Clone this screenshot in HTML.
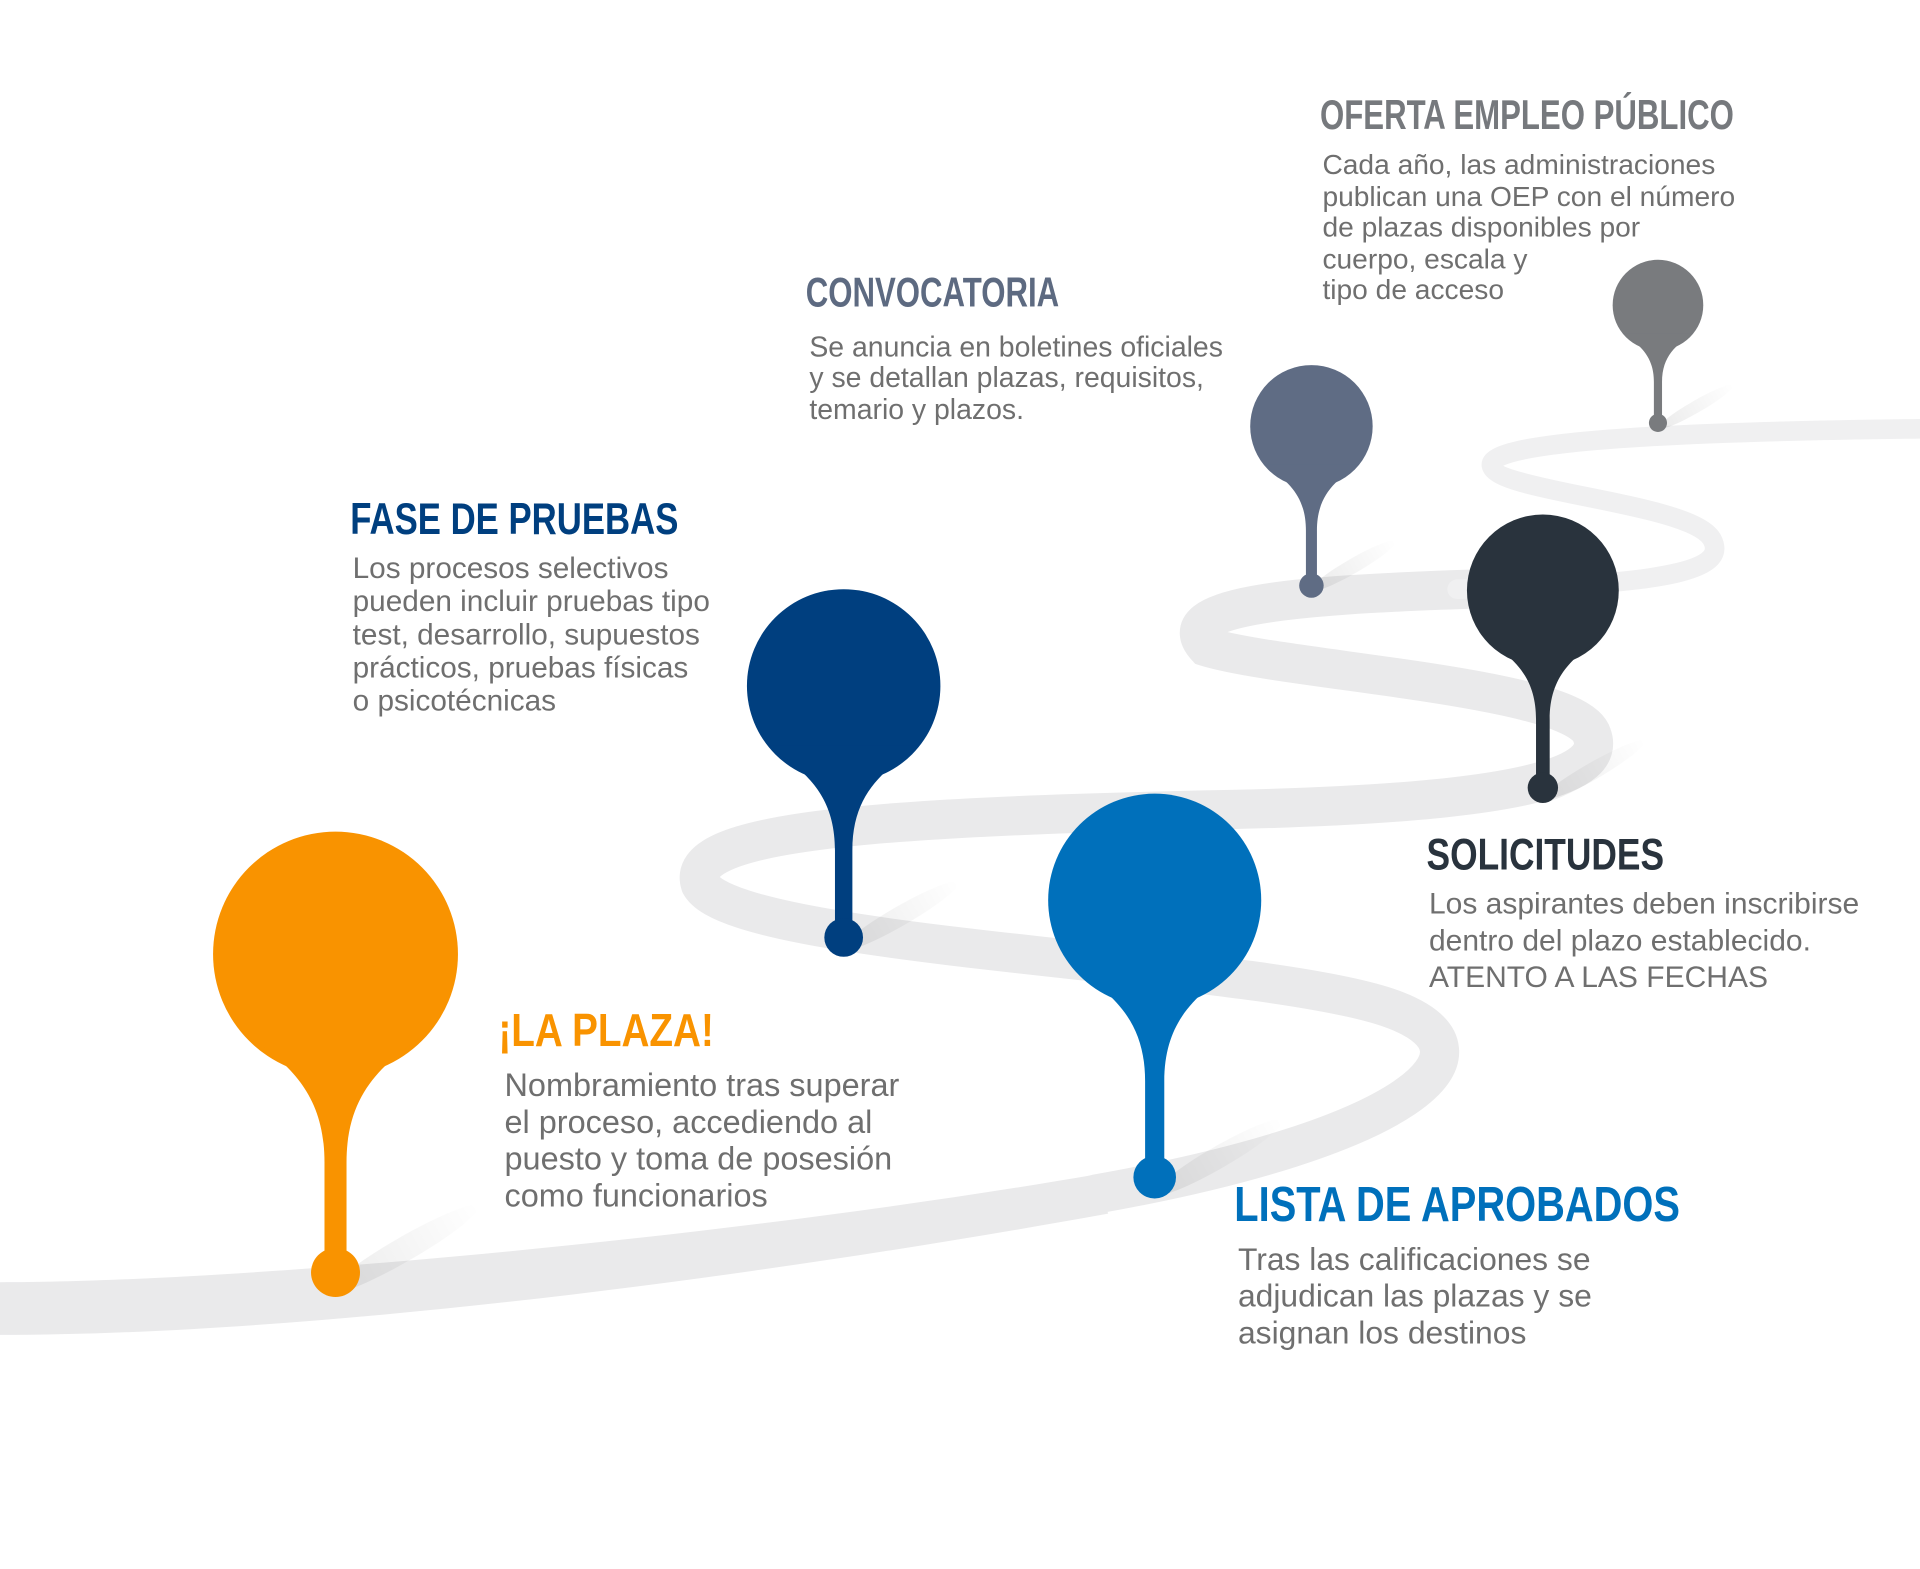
<!DOCTYPE html>
<html><head><meta charset="utf-8"><style>
html,body{margin:0;padding:0;background:#fff;overflow:hidden;}
svg{display:block;}
.t{font-family:"Liberation Sans Narrow","Liberation Sans",sans-serif;font-weight:bold;}
.b{font-family:"Liberation Sans",sans-serif;fill:#6f6f6f;}
</style></head><body>
<svg width="1920" height="1569" viewBox="0 0 1568 1281" xmlns="http://www.w3.org/2000/svg">
<defs>
<g id="pin">
<circle cx="0" cy="0" r="100"/>
<path d="M-78,62 C-40,88 -9,112 -9,170 L-9,245 L9,245 L9,170 C9,112 40,88 78,62 Z"/>
<circle cx="0" cy="260" r="20"/>
</g>
<linearGradient id="sh" x1="0" x2="1"><stop offset="0" stop-color="#000" stop-opacity="0.08"/><stop offset="1" stop-color="#000" stop-opacity="0"/></linearGradient>
</defs>
<path d="M0,1047 C200,1047 600,1010 895,959 L905,991 C600,1046 250,1090 0,1090 Z" fill="#eaeaeb"/>
<path d="M895,975 C1150,930 1230,860 1140,825 C1040,785 600,775 572,722 C558,680 700,667 1000,661 C1250,656 1312,632 1300,600 C1288,560 1050,548 985,528 C955,495 1050,486 1200,481" fill="none" stroke="#eaeaeb" stroke-width="32" stroke-linecap="round"/>
<path d="M1190,481 C1380,478 1410,462 1398,440 C1380,410 1222,402 1218,380 C1215,358 1400,352 1568,350" fill="none" stroke="#f0f0f1" stroke-width="16" stroke-linecap="round"/>
<ellipse cx="330" cy="1020" rx="70" ry="10" fill="url(#sh)" transform="rotate(-30 330 1020)"/>
<ellipse cx="735" cy="748" rx="55" ry="8" fill="url(#sh)" transform="rotate(-30 735 748)"/>
<ellipse cx="995" cy="945" rx="60" ry="9" fill="url(#sh)" transform="rotate(-30 995 945)"/>
<ellipse cx="1300" cy="630" rx="50" ry="7" fill="url(#sh)" transform="rotate(-30 1300 630)"/>
<ellipse cx="1105" cy="462" rx="40" ry="6" fill="url(#sh)" transform="rotate(-30 1105 462)"/>
<ellipse cx="1385" cy="332" rx="35" ry="5" fill="url(#sh)" transform="rotate(-30 1385 332)"/>
<use href="#pin" fill="#f99300" transform="translate(274,779) scale(1.0)"/>
<use href="#pin" fill="#003f7f" transform="translate(689,560) scale(0.79)"/>
<use href="#pin" fill="#0070bb" transform="translate(943,735) scale(0.87)"/>
<use href="#pin" fill="#29333d" transform="translate(1260,482) scale(0.62)"/>
<use href="#pin" fill="#5f6c84" transform="translate(1071,348) scale(0.50)"/>
<use href="#pin" fill="#797b7e" transform="translate(1354,249) scale(0.37)"/>
<text class="t" x="1078" y="105" font-size="34" fill="#76797d" textLength="338" lengthAdjust="spacingAndGlyphs">OFERTA EMPLEO PÚBLICO</text>
<g class="b" font-size="23">
<text x="1080" y="142">Cada año, las administraciones</text>
<text x="1080" y="168">publican una OEP con el número</text>
<text x="1080" y="193">de plazas disponibles por</text>
<text x="1080" y="219">cuerpo, escala y</text>
<text x="1080" y="244">tipo de acceso</text>
</g>
<text class="t" x="658" y="250" font-size="34" fill="#5d6a81" textLength="207" lengthAdjust="spacingAndGlyphs">CONVOCATORIA</text>
<g class="b" font-size="23.2">
<text x="661" y="291">Se anuncia en boletines oficiales</text>
<text x="661" y="316">y se detallan plazas, requisitos,</text>
<text x="661" y="342">temario y plazos.</text>
</g>
<text class="t" x="286" y="436" font-size="36" fill="#003f7f" textLength="268" lengthAdjust="spacingAndGlyphs">FASE DE PRUEBAS</text>
<g class="b" font-size="24.3">
<text x="288" y="472">Los procesos selectivos</text>
<text x="288" y="499">pueden incluir pruebas tipo</text>
<text x="288" y="526">test, desarrollo, supuestos</text>
<text x="288" y="553">prácticos, pruebas físicas</text>
<text x="288" y="580">o psicotécnicas</text>
</g>
<text class="t" x="1165" y="710" font-size="36" fill="#29333d" textLength="194" lengthAdjust="spacingAndGlyphs">SOLICITUDES</text>
<g class="b" font-size="24.5">
<text x="1167" y="746">Los aspirantes deben inscribirse</text>
<text x="1167" y="776">dentro del plazo establecido.</text>
<text x="1167" y="806">ATENTO A LAS FECHAS</text>
</g>
<text class="t" x="407" y="854" font-size="38" fill="#f99300" textLength="176" lengthAdjust="spacingAndGlyphs">¡LA PLAZA!</text>
<g class="b" font-size="26.5">
<text x="412" y="895">Nombramiento tras superar</text>
<text x="412" y="925">el proceso, accediendo al</text>
<text x="412" y="955">puesto y toma de posesión</text>
<text x="412" y="985">como funcionarios</text>
</g>
<text class="t" x="1008" y="997" font-size="40" fill="#0070bb" textLength="364" lengthAdjust="spacingAndGlyphs">LISTA DE APROBADOS</text>
<g class="b" font-size="26">
<text x="1011" y="1037">Tras las calificaciones se</text>
<text x="1011" y="1067">adjudican las plazas y se</text>
<text x="1011" y="1097">asignan los destinos</text>
</g>
</svg>
</body></html>
